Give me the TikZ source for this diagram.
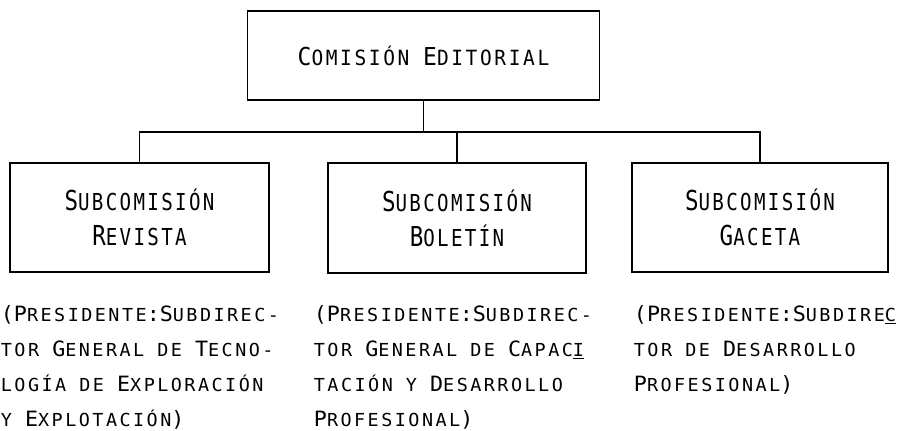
\documentclass[tikz,border=0pt]{standalone}
\usepackage{fontspec}
\newfontfamily\typer[FakeStretch=1.03]{DejaVu Sans Mono}
\newfontfamily\typerbox[FakeStretch=0.82]{DejaVu Sans Mono}
\newfontfamily\typertop[FakeStretch=0.93]{DejaVu Sans Mono}
\def\lcsp{13.8}
\makeatletter
\newcommand{\lc}[1]{{\fontsize{\strip@pt\dimexpr0.85\dimexpr\f@size pt\relax\relax}{\baselineskip}\selectfont\addfontfeature{LetterSpace=\lcsp}\MakeUppercase{#1}}}
\makeatother
\begin{document}
\begin{tikzpicture}[x=0.75pt,y=-0.75pt,line width=1.4pt,
    every node/.style={font=\fontsize{15.8}{26.25}\selectfont\typer, inner sep=0pt},
    box/.style={draw, minimum height=82pt, align=center, font=\def\lcsp{10}\fontsize{20.6}{26.25}\selectfont\typerbox},
    top/.style={box, font=\def\lcsp{12.5}\fontsize{18.5}{22}\selectfont\typertop},
    note/.style={anchor=base west, align=left}]
  \useasboundingbox (0,0) rectangle (910,430);
  \node (edit) [top, minimum width=264pt, minimum height=67pt] at (423.5,55.5) {C\lc{omisión} E\lc{ditorial}};
  \node (revista) [box, minimum width=194pt] at (139.5,217.5) {S\lc{ubcomisión}\\R\lc{evista}};
  \node (boletin) [box, minimum width=193.5pt] at (457,218) {S\lc{ubcomisión}\\B\lc{oletín}};
  \node (gaceta) [box, minimum width=192pt] at (760,217.5) {S\lc{ubcomisión}\\G\lc{aceta}};
  \coordinate (bus) at (423.5,132);

  \draw (edit) -- (bus);
  \draw (bus) -| (revista);
  \draw (bus) -| (boletin);
  \draw (bus) -| (gaceta);

  \node (nrevista) [note] at (0,426) {(P\lc{residente}:S\lc{ubdirec-}\\\lc{tor} G\lc{eneral} \lc{de} T\lc{ecno-}\\\lc{logía} \lc{de} E\lc{xploración}\\\lc{y} E\lc{xplotación})};
  \node (nboletin) [note] at (313,426) {(P\lc{residente}:S\lc{ubdirec-}\\\lc{tor} G\lc{eneral} \lc{de} C\lc{apac}\underline{\lc{i}}\\\lc{tación} \lc{y} D\lc{esarrollo}\\P\lc{rofesional})};
  \node (ngaceta) [note] at (633,391) {(P\lc{residente}:S\lc{ubdire}\underline{\lc{c}}\\\lc{tor} \lc{de} D\lc{esarrollo}\\P\lc{rofesional})};
\end{tikzpicture}
\end{document}
